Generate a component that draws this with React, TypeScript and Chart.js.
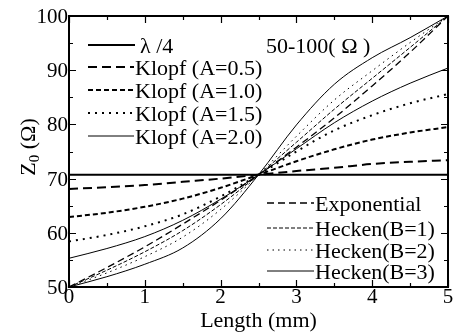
import React, { useEffect, useRef, useState } from "react";
import { Chart, registerables } from "chart.js";

Chart.register(...registerables);

// ---- data ----
const lengthMm = [0, 0.5, 1, 1.5, 2, 2.5, 3, 3.5, 4, 4.5, 5];
const quarterWave = [70.7, 70.7, 70.7, 70.7, 70.7, 70.7, 70.7, 70.7, 70.7, 70.7, 70.7];
const klopfA05 = [68.1, 68.4, 68.8, 69.4, 70.0, 70.7, 71.4, 72.0, 72.7, 73.1, 73.4];
const klopfA10 = [62.9, 63.7, 64.8, 66.3, 68.3, 70.7, 73.2, 75.4, 77.2, 78.5, 79.5];
const klopfA15 = [58.4, 59.6, 61.2, 63.4, 66.7, 70.7, 75.0, 78.9, 81.7, 83.9, 85.6];
const klopfA20 = [55.3, 57.1, 59.3, 62.3, 66.2, 70.7, 75.5, 80.3, 84.3, 87.6, 90.4];
const exponential = [50, 53.6, 57.4, 61.6, 66.0, 70.7, 75.8, 81.2, 87.1, 93.3, 100];
const heckenB1 = [50, 53.1, 56.5, 60.4, 65.2, 70.7, 76.7, 82.8, 88.5, 94.2, 100];
const heckenB2 = [50, 52.6, 55.6, 59.2, 64.3, 70.7, 77.8, 84.5, 89.9, 95.1, 100];
const heckenB3 = [50, 51.9, 54.2, 57.2, 62.6, 70.7, 79.9, 87.4, 92.3, 96.0, 100];

const seriesLabels = [
  "\u03bb /4",
  "Klopf (A=0.5)",
  "Klopf (A=1.0)",
  "Klopf (A=1.5)",
  "Klopf (A=2.0)",
  "Exponential",
  "Hecken(B=1)",
  "Hecken(B=2)",
  "Hecken(B=3)",
];
const seriesValues = [
  quarterWave,
  klopfA05,
  klopfA10,
  klopfA15,
  klopfA20,
  exponential,
  heckenB1,
  heckenB2,
  heckenB3,
];
const xTickValues = [0, 1, 2, 3, 4, 5];
const yTickValues = [50, 60, 70, 80, 90, 100];
const annotationText = "50-100( \u03a9 )";
const xTitle = "Length (mm)";
const yTitleMain = "Z";
const yTitleSub = "0";
const yTitleRest = " (\u03a9)";

// ---- styles ----
const seriesStyles = [
  { width: 2, dash: [] as number[] },
  { width: 2, dash: [9, 5] },
  { width: 2, dash: [5, 3] },
  { width: 2, dash: [2, 5] },
  { width: 1, dash: [] as number[] },
  { width: 1.3, dash: [7, 4] },
  { width: 1, dash: [4, 2] },
  { width: 1, dash: [1.5, 4] },
  { width: 1, dash: [] as number[] },
];

// legend placement: [x1, x2, y, textX]
const legendPlacement = [
  [88, 135, 45, 140],
  [88, 134, 67, 135],
  [88, 134, 90, 135],
  [88, 134, 113, 135],
  [88, 134, 136, 135],
  [267, 314, 203, 315],
  [267, 314, 228, 315],
  [267, 314, 250, 315],
  [267, 314, 271, 315],
];

const FAMILY = '"Liberation Serif", "Times New Roman", Times, serif';

type Lbl = {
  text: string;
  x: number;
  y: number;
  ax: number; // horizontal anchor: 0 left, -50 center, -100 right
  ay: number; // vertical anchor: 0 top, -50 middle
  size: number;
};

const decorPlugin = {
  id: "decor",
  afterDraw(chart: any) {
    const { ctx, chartArea: a, scales } = chart;
    const xs = scales.x;
    const ys = scales.y;
    ctx.save();
    ctx.strokeStyle = "#000";
    ctx.setLineDash([]);

    // frame
    ctx.lineWidth = 2;
    ctx.strokeRect(a.left, a.top, a.right - a.left, a.bottom - a.top);

    // inward ticks (major + minor) on all four sides
    ctx.lineWidth = 1.2;
    const xMin = xTickValues[0];
    const xMax = xTickValues[xTickValues.length - 1];
    for (let v = xMin; v <= xMax + 1e-9; v += 0.5) {
      const px = Math.round(xs.getPixelForValue(v)) + 0.5;
      const len = Math.abs(v - Math.round(v)) < 1e-9 ? 7 : 4;
      ctx.beginPath();
      ctx.moveTo(px, a.bottom);
      ctx.lineTo(px, a.bottom - len);
      ctx.moveTo(px, a.top);
      ctx.lineTo(px, a.top + len);
      ctx.stroke();
    }
    const yMin = yTickValues[0];
    const yMax = yTickValues[yTickValues.length - 1];
    for (let v = yMin; v <= yMax + 1e-9; v += 5) {
      const py = Math.round(ys.getPixelForValue(v)) + 0.5;
      const len = v % 10 === 0 ? 7 : 4;
      ctx.beginPath();
      ctx.moveTo(a.left, py);
      ctx.lineTo(a.left + len, py);
      ctx.moveTo(a.right, py);
      ctx.lineTo(a.right - len, py);
      ctx.stroke();
    }

    // legend line samples
    const ds = chart.data.datasets;
    legendPlacement.forEach((p, i) => {
      const d = ds[i];
      ctx.save();
      ctx.lineWidth = d.borderWidth;
      ctx.setLineDash(d.borderDash || []);
      ctx.beginPath();
      ctx.moveTo(p[0], p[2]);
      ctx.lineTo(p[1], p[2]);
      ctx.stroke();
      ctx.restore();
    });

    ctx.restore();
  },
};

export default function App() {
  const canvasRef = useRef<HTMLCanvasElement | null>(null);
  const [labels, setLabels] = useState<Lbl[]>([]);
  const [yTitlePos, setYTitlePos] = useState<{ x: number; y: number } | null>(null);

  useEffect(() => {
    const canvas = canvasRef.current!;
    const datasets = seriesLabels.map((label, i) => ({
      label,
      data: lengthMm.map((x, j) => ({ x, y: seriesValues[i][j] })),
      borderColor: "#000",
      borderWidth: seriesStyles[i].width,
      borderDash: seriesStyles[i].dash,
      pointRadius: 0,
      cubicInterpolationMode: "monotone",
    }));

    const chart = new Chart(canvas, {
      type: "line",
      data: { datasets },
      options: {
        animation: false,
        responsive: false,
        devicePixelRatio: 1,
        layout: { padding: { top: 16, right: 20, left: 0, bottom: 0 } },
        plugins: { legend: { display: false }, tooltip: { enabled: false } },
        scales: {
          x: {
            type: "linear",
            min: xTickValues[0],
            max: xTickValues[xTickValues.length - 1],
            afterBuildTicks: (s: any) => {
              s.ticks = xTickValues.map((v) => ({ value: v }));
            },
            afterFit: (s: any) => {
              s.height = 48;
            },
            grid: { display: false, drawTicks: false },
            border: { display: false },
            ticks: { display: false },
          },
          y: {
            type: "linear",
            min: yTickValues[0],
            max: yTickValues[yTickValues.length - 1],
            afterBuildTicks: (s: any) => {
              s.ticks = yTickValues.map((v) => ({ value: v }));
            },
            afterFit: (s: any) => {
              s.width = 69;
            },
            grid: { display: false, drawTicks: false },
            border: { display: false },
            ticks: { display: false },
          },
        },
      },
      plugins: [decorPlugin],
    } as any);

    // text as real DOM text, placed through the chart's own scales
    const a = chart.chartArea;
    const xs: any = chart.scales.x;
    const ys: any = chart.scales.y;
    const out: Lbl[] = [];
    xTickValues.forEach((v) =>
      out.push({ text: String(v), x: xs.getPixelForValue(v), y: a.bottom - 1, ax: -50, ay: 0, size: 21 })
    );
    yTickValues.forEach((v) =>
      out.push({ text: String(v), x: a.left - 1, y: ys.getPixelForValue(v), ax: -100, ay: -50, size: 21 })
    );
    legendPlacement.forEach((p, i) =>
      out.push({ text: seriesLabels[i], x: p[3], y: p[2] + 1, ax: 0, ay: -50, size: 22 })
    );
    out.push({ text: annotationText, x: 266, y: 46, ax: 0, ay: -50, size: 22 });
    out.push({ text: xTitle, x: (a.left + a.right) / 2, y: 320, ax: -50, ay: -50, size: 22 });
    setLabels(out);
    setYTitlePos({ x: 28, y: (a.top + a.bottom) / 2 - 5 });

    return () => chart.destroy();
  }, []);

  return (
    <div
      style={{
        position: "absolute",
        left: 0,
        top: 0,
        width: 468,
        height: 335,
        background: "#fff",
        overflow: "hidden",
        fontFamily: FAMILY,
        color: "#000",
      }}
    >
      <canvas ref={canvasRef} width={468} height={335} style={{ display: "block" }} />
      {labels.map((l, i) => (
        <span
          key={i}
          style={{
            position: "absolute",
            left: l.x,
            top: l.y,
            transform: `translate(${l.ax}%, ${l.ay}%)`,
            fontSize: l.size,
            lineHeight: 1,
            whiteSpace: "pre",
            pointerEvents: "none",
          }}
        >
          {l.text}
        </span>
      ))}
      {yTitlePos && (
        <div
          style={{
            position: "absolute",
            left: yTitlePos.x,
            top: yTitlePos.y,
            transform: "translate(-50%, -50%) rotate(-90deg)",
            fontSize: 22,
            lineHeight: 1,
            whiteSpace: "pre",
            pointerEvents: "none",
          }}
        >
          {yTitleMain}
          <span style={{ fontSize: 15, position: "relative", top: 4 }}>{yTitleSub}</span>
          {yTitleRest}
        </div>
      )}
    </div>
  );
}
